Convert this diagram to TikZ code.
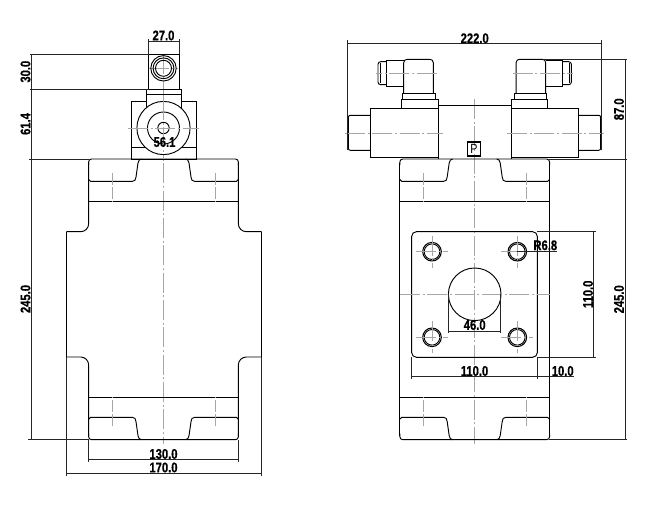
\documentclass[tikz,border=0pt]{standalone}
\usepackage{fontspec}
\setmainfont[FakeStretch=0.8, BoldFeatures={FakeBold=0.6}]{Liberation Sans}
\usetikzlibrary{positioning}

\tikzset{
  pics/tongue/.style={code={
    \draw[outline, rounded corners=2.2pt] (-74.85,6) -- (-74.85,0) -- (74.85,0) -- (74.85,6);
    \draw[outline] (-74.85,20.5) -- (-73,22.3) -- (-31,22.3) .. controls (-28.5,22.3) and (-28,21) .. (-27.5,18)
      -- (-25.5,4) .. controls (-25,1.5) and (-24,0) .. (-22,0);
    \draw[outline] (74.85,20.5) -- (73,22.3) -- (31,22.3) .. controls (28.5,22.3) and (28,21) .. (27.5,18)
      -- (25.5,4) .. controls (25,1.5) and (24,0) .. (22,0);
    \draw[outline] (-74.85,42.7) -- (74.85,42.7);
    \draw[hidden] (-51.5,14) -- (-51.5,42.7) (51.5,14) -- (51.5,42.7);
  }},
  pics/portcircle/.style={code={
    \draw[outline, line width=0.8pt] (0,0) circle (9.3);
    \draw[outline] (0,0) circle (7.8);
    \draw[center] (-16,0) -- (16,0) (0,-16) -- (0,16);
  }}
}

\begin{document}
\begin{tikzpicture}[
  x=0.75pt, y=-0.75pt,
  outline/.style={draw=black, line width=0.7pt},
  dimline/.style={draw=black!85, line width=0.5pt},
  center/.style={draw=black!35, line width=0.35pt, dash pattern=on 15pt off 2pt on 1.5pt off 2pt},
  hidden/.style={draw=black!35, line width=0.35pt, dash pattern=on 9pt off 1.5pt},
  dimtext/.style={font=\bfseries\fontsize{10.5}{10.5}\selectfont, inner sep=0pt, text=black},
  dimvert/.style={dimtext, rotate=90}
]
  \useasboundingbox (0,0) rectangle (653,509);

  % Left view, centre lines
  \draw[center] (163.5,54) -- (163.5,444);
  \draw[center] (149,68.3) -- (178,68.3);

  % Left view, block
  \pic at (163.5,159) {tongue};
  \pic[yscale=-1] at (163.5,439.7) {tongue};
  \draw[outline, rounded corners=6pt] (88.65,163) -- (88.65,231.7) -- (66.3,231.7);
  \draw[outline, rounded corners=6pt] (238.35,163) -- (238.35,231.7) -- (261.7,231.7);
  \draw[outline] (66.3,231.7) -- (66.3,357);
  \draw[outline] (261.7,231.7) -- (261.7,357);
  \draw[outline, rounded corners=6pt] (66.3,357) -- (88.65,357) -- (88.65,436);
  \draw[outline, rounded corners=6pt] (261.7,357) -- (238.35,357) -- (238.35,436);

  % Left view, actuator
  \draw[outline] (148.7,54.3) rectangle (179.7,89.3);
  \foreach \rad in {12.7,10.4,8} \draw[outline] (163.5,68.3) circle (\rad);
  \draw[outline] (146,94) -- (146,89.3) -- (181.7,89.3) -- (181.7,94) -- cycle;
  \draw[outline] (146,94) -- (146,109) (181.7,94) -- (181.7,109);
  \draw[outline] (146,101.3) -- (131.7,101.3) -- (131.7,159) -- (196.3,159) -- (196.3,101.3) -- (181.7,101.3);
  \draw[outline] (131.7,147.7) -- (196.3,147.7);
  \draw[outline, fill=white] (163.5,128) circle (26.6);
  \draw[outline] (163.5,128) circle (16);
  \draw[outline] (163.5,128) circle (5.7);
  \draw[center] (128,128) -- (199,128) (163.5,100) -- (163.5,159);

  % Left view, dimensions
  \draw[dimline] (148.7,54.3) -- (148.7,39) (179.7,54.3) -- (179.7,39);
  \draw[dimline] (148.7,41) -- (179.7,41);
  \draw[dimline] (31,54.3) -- (31,439.7);
  \draw[dimline] (30,54.3) -- (148.7,54.3);
  \draw[dimline] (30,89.3) -- (148.7,89.3);
  \draw[dimline] (29,159) -- (88.65,159);
  \draw[dimline] (28,439.7) -- (88.65,439.7);
  \draw[dimline] (88.65,440) -- (88.65,462) (238.35,440) -- (238.35,462);
  \draw[dimline] (88.65,459.3) -- (238.35,459.3);
  \draw[dimline] (66.3,357) -- (66.3,475.5) (261.7,357) -- (261.7,475.5);
  \draw[dimline] (66.3,473) -- (261.7,473);
  \node[dimtext] (dimLever) at (163.5,35.5) {27.0};
  \node[dimvert] (dimHead) at (25.5,71.7) {30.0};
  \node[dimvert] (dimBody) at (25.5,124) {61.4};
  \node[dimvert] (dimHeightL) at (25.5,299) {245.0};
  \node[dimtext] (dimRoller) at (164.5,142) {56.1};
  \node[dimtext] (dimInner) at (163.5,454) {130.0};
  \node[dimtext] (dimOuter) at (163.5,467.5) {170.0};

  % Right view, block
  \draw[center] (474.7,99) -- (474.7,444);
  \pic at (474.7,159) {tongue};
  \pic[yscale=-1] at (474.7,439.7) {tongue};
  \draw[outline] (399.85,163) -- (399.85,436) (549.55,163) -- (549.55,436);

  % Right view, valve
  \draw[outline] (438.3,105) -- (511,105);
  \draw[outline] (438.3,159) -- (438.3,105) (511,159) -- (511,105);
  \draw[outline] (370.3,108.3) rectangle (438.3,157.3);
  \draw[outline] (511,108.3) rectangle (578.7,157.3);
  \draw[outline, rounded corners=1.5pt] (370.3,115.3) -- (348.3,115.3) -- (348.3,150.3) -- (370.3,150.3);
  \draw[outline, rounded corners=1.5pt] (578.7,115.3) -- (600.7,115.3) -- (600.7,150.3) -- (578.7,150.3);
  \draw[center] (345,133.3) -- (442.7,133.3) (507,133.3) -- (604,133.3);
  \foreach \sgn in {-1,1} {
    \begin{scope}[shift={(474.7,0)}, xscale=\sgn]
      \draw[outline] (36.4,108.3) -- (36.4,99) -- (73,99) -- (73,108.3);
      \draw[outline] (39.7,99) -- (39.7,93.7) -- (72,93.7) -- (72,99);
      \draw[outline, rounded corners=2.5pt] (41.4,93.7) -- (41.4,59.3) -- (71,59.3) -- (71,93.7);
      \draw[outline] (71,60.3) -- (88,60.3) -- (88,86.3) -- (71,86.3);
      \draw[outline, rounded corners=2pt] (88,61.7) -- (96.7,61.7) -- (96.7,84.7) -- (88,84.7);
      \draw[outline] (94.7,63) -- (94.7,83.4);
      \draw[center] (38,73.3) -- (98.7,73.3);
    \end{scope}
  }
  \node[draw=black, line width=1pt, inner sep=1pt, minimum width=13.4*0.75pt, minimum height=14*0.75pt,
    font=\fontsize{10}{10}\selectfont] (portP) at (474,149) {P};

  % Right view, mounting face
  \draw[outline, rounded corners=3.5pt] (411.7,231.7) rectangle (537.3,357.3);
  \draw[outline] (474.7,294.3) circle (26.3);
  \draw[center] (400,294.3) -- (549.5,294.3);
  \foreach \px/\py in {432/251.7, 517.3/251.7, 432/337.3, 517.3/337.3}
    \pic at (\px,\py) {portcircle};

  % Right view, dimensions
  \draw[dimline] (347.3,150) -- (347.3,40) (601.7,150) -- (601.7,40);
  \draw[dimline] (347.3,43.3) -- (601.7,43.3);
  \draw[dimline] (543,59.3) -- (627,59.3);
  \draw[dimline] (549,159) -- (627,159);
  \draw[dimline] (549,439.7) -- (627,439.7);
  \draw[dimline] (625,59.3) -- (625,439.7);
  \draw[dimline] (537.3,231.7) -- (596,231.7) (537.3,357.3) -- (596,357.3);
  \draw[dimline] (593.7,231.7) -- (593.7,357.3);
  \draw[dimline] (411.7,357.3) -- (411.7,379) (537.3,357.3) -- (537.3,379);
  \draw[dimline] (411.7,376.3) -- (574,376.3);
  \draw[dimline] (448.7,294.3) -- (448.7,333) (500.7,294.3) -- (500.7,333);
  \draw[dimline] (448.7,331) -- (500.7,331);
  \draw[dimline] (517.3,251) -- (557.3,251);
  \node[dimtext] (dimWidth) at (474.7,38.3) {222.0};
  \node[dimvert] (dimValve) at (619,109.3) {87.0};
  \node[dimvert] (dimHeightR) at (619,299.3) {245.0};
  \node[dimvert] (dimFaceV) at (588,294.3) {110.0};
  \node[dimtext] (dimFaceH) at (474.5,371) {110.0};
  \node[dimtext] (dimEdge) at (562.7,371) {10.0};
  \node[dimtext] (dimBore) at (474.7,325) {46.0};
  \node[dimtext] (dimRad) at (545.3,245.3) {R6.8};
\end{tikzpicture}
\end{document}
